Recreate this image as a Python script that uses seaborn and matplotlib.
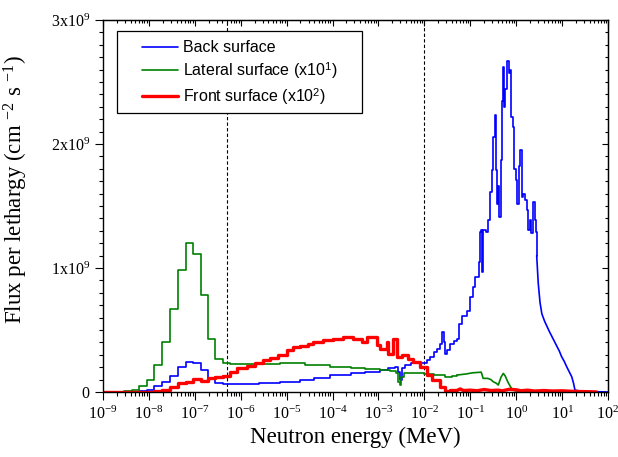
import numpy as np
import matplotlib
matplotlib.use("Agg")
import matplotlib.pyplot as plt
import seaborn as sns
from matplotlib.patches import Rectangle
from matplotlib.ticker import LogLocator, MultipleLocator, NullFormatter

# energies are log10(E / MeV) at the start of each histogram bin,
# fluxes are per lethargy in units of 1e9 cm^-2 s^-1
back_loge = [-9.0, -8.375, -8.21, -8.05, -7.88, -7.71, -7.54, -7.37, -7.20, -7.05, -6.87, -6.71, -6.55, -6.38, -6.23,
             -6.0, -5.6, -5.14, -4.71, -4.4, -4.05, -3.6, -3.3, -2.97, -2.8,
             -2.64, -2.58, -2.53, -2.49, -2.42, -2.3, -2.1, -1.95, -1.88, -1.8,
             -1.73, -1.66, -1.61, -1.58, -1.55, -1.5, -1.44, -1.35, -1.29, -1.24,
             -1.19, -1.08, -1.0, -0.95, -0.90, -0.82, -0.79, -0.77, -0.75, -0.72,
             -0.66, -0.61, -0.57, -0.53, -0.50, -0.46, -0.44, -0.42, -0.39, -0.37,
             -0.34, -0.31, -0.28, -0.26, -0.24, -0.205, -0.16, -0.13, -0.11, -0.075,
             -0.045, -0.002, 0.026, 0.063, 0.085, 0.12, 0.157, 0.19, 0.23, 0.266,
             0.30, 0.33, 0.36, 0.40, 0.43, 0.447, 0.48, 0.52, 0.56, 0.62,
             0.67, 0.72, 0.775, 0.83, 0.885, 0.94, 0.99, 1.05, 1.10, 1.16,
             1.21, 1.25, 1.28, 1.35, 1.5, 1.7, 2.0]
back_flux = [0.0, 0.003, 0.005, 0.016, 0.05, 0.08, 0.13, 0.20, 0.245, 0.234, 0.18, 0.105, 0.07, 0.064, 0.063,
             0.066, 0.075, 0.083, 0.097, 0.11, 0.137, 0.15, 0.162, 0.177, 0.19,
             0.204, 0.16, 0.10, 0.19, 0.218, 0.23, 0.23, 0.26, 0.285, 0.32,
             0.35, 0.39, 0.486, 0.40, 0.31, 0.34, 0.39, 0.41, 0.43, 0.55,
             0.61, 0.65, 0.77, 0.85, 0.93, 1.05, 1.29, 1.31, 0.97, 1.31,
             1.29, 1.39, 1.61, 1.79, 2.06, 2.23, 1.79, 1.52, 1.66, 1.41,
             1.87, 2.35, 2.62, 2.30, 2.44, 2.67, 2.57, 2.60, 2.22, 2.14,
             1.80, 1.71, 1.52, 1.82, 1.95, 1.57, 1.60, 1.55, 1.47, 1.31,
             1.39, 1.28, 1.53, 1.39, 1.29, 1.10, 0.88, 0.72, 0.63, 0.57,
             0.53, 0.49, 0.45, 0.41, 0.37, 0.33, 0.285, 0.245, 0.204, 0.16,
             0.123, 0.07, 0.016, 0.01, 0.008, 0.003, 0.0]

lateral_loge = [-9.0, -8.54, -8.375, -8.21, -8.05, -7.88, -7.71, -7.54, -7.37, -7.20,
                -7.05, -6.87, -6.71, -6.55, -6.38, -6.23, -5.6, -5.14, -4.6, -4.05,
                -3.6, -3.3, -2.97, -2.75, -2.62, -2.57, -2.53, -2.5, -2.45, -2.3,
                -2.0, -1.8, -1.55, -1.4, -1.29, -1.1, -0.95, -0.83, -0.76, -0.72,
                -0.62, -0.55, -0.5, -0.43, -0.39, -0.33, -0.28, -0.24, -0.18, -0.12,
                -0.07, 0.0, 0.4, 0.9, 1.4, 1.7]
lateral_flux = [0.0, 0.008, 0.016, 0.05, 0.10, 0.22, 0.40, 0.67, 0.98, 1.20,
                1.11, 0.78, 0.43, 0.27, 0.23, 0.225, 0.228, 0.23, 0.218, 0.204,
                0.196, 0.185, 0.177, 0.168, 0.15, 0.083, 0.056, 0.12, 0.156, 0.15,
                0.145, 0.14, 0.125, 0.13, 0.137, 0.145, 0.155, 0.158, 0.16, 0.11,
                0.11, 0.1, 0.083, 0.07, 0.056, 0.12, 0.15, 0.13, 0.08, 0.04,
                0.016, 0.008, 0.006, 0.005, 0.003, 0.0]

front_loge = [-9.0, -8.2, -7.88, -7.71, -7.54, -7.37, -7.20, -7.05, -6.87, -6.71,
              -6.55, -6.38, -6.23, -6.09, -5.87, -5.69, -5.51, -5.36, -5.18, -4.99,
              -4.86, -4.71, -4.53, -4.42, -4.21, -3.99, -3.77, -3.55, -3.36, -3.25,
              -3.03, -2.965, -2.81, -2.79, -2.68, -2.59, -2.49, -2.36, -2.25, -2.09,
              -1.94, -1.83, -1.66, -1.55, -1.45, -1.3, -1.22, -1.15, -1.0, -0.85,
              -0.7, -0.55, -0.4, -0.3, -0.15, 0.0, 0.1, 0.25, 0.4, 0.6,
              0.8, 1.0, 1.2, 1.4, 1.6, 1.75]
front_flux = [0.0, 0.002, 0.005, 0.016, 0.04, 0.07, 0.08, 0.105, 0.09, 0.11,
              0.123, 0.13, 0.16, 0.19, 0.21, 0.23, 0.26, 0.277, 0.30, 0.34,
              0.365, 0.37, 0.39, 0.405, 0.42, 0.43, 0.446, 0.43, 0.405, 0.446,
              0.38, 0.35, 0.40, 0.31, 0.43, 0.285, 0.30, 0.27, 0.245, 0.204,
              0.137, 0.097, 0.043, 0.012, 0.018, 0.01, 0.025, 0.012, 0.015, 0.01,
              0.02, 0.012, 0.015, 0.01, 0.022, 0.018, 0.01, 0.015, 0.008, 0.012,
              0.008, 0.01, 0.006, 0.004, 0.002, 0.0]

cut_energies = [5e-7, 1e-2]  # MeV, dashed separators
x_decades = list(range(-9, 3))
y_ticks = [0, 1e9, 2e9, 3e9]
y_labels = ["0", "1x10$^9$", "2x10$^9$", "3x10$^9$"]

# label, energies, fluxes, colour, width, log10(E) above which bins are drawn as a plain line
series = [
    ("Back surface", back_loge, back_flux, "#0000ff", 1.2, 0.44),
    ("Lateral surface (x10$^{\\mathsf{1}}$)", lateral_loge, lateral_flux, "#008000", 1.2, -1.3),
    ("Front surface (x10$^{\\mathsf{2}}$)", front_loge, front_flux, "#ff0000", 2.4, -1.3),
]

sns.set_style("ticks")
plt.rcParams["font.family"] = ["Liberation Serif", "DejaVu Serif"]
plt.rcParams["mathtext.fontset"] = "custom"
plt.rcParams["mathtext.rm"] = "Liberation Serif"
plt.rcParams["mathtext.it"] = "Liberation Serif:italic"
plt.rcParams["mathtext.sf"] = "Liberation Sans"
plt.rcParams["axes.edgecolor"] = "black"
plt.rcParams["xtick.color"] = "black"
plt.rcParams["ytick.color"] = "black"
plt.rcParams["text.color"] = "black"
plt.rcParams["axes.labelcolor"] = "black"

fig = plt.figure(figsize=(6.18, 4.57), dpi=100)
ax = fig.add_axes([0.1667, 0.1422, 0.8171, 0.814])

for label, loge, flux, color, lw, fine_from in series:
    loge = np.array(loge)
    energy = 10.0 ** loge
    values = np.array(flux) * 1e9
    k = int(np.argmax(loge >= fine_from))
    # coarse part as a step histogram, fine part as a plain line
    sns.lineplot(x=energy[:k + 1], y=values[:k + 1], ax=ax, color=color, linewidth=lw, label=label,
                 drawstyle="steps-post", estimator=None, sort=False)
    sns.lineplot(x=energy[k:], y=values[k:], ax=ax, color=color, linewidth=lw, label="_nolegend_",
                 estimator=None, sort=False)

for e in cut_energies:
    ax.axvline(e, color="black", linestyle=(0, (3, 2)), linewidth=0.8, zorder=1)

ax.set_xscale("log")
ax.set_xlim(1e-9, 1e2)
ax.set_ylim(0, 3e9)

major_x = [10.0 ** d for d in x_decades]
ax.set_xticks(major_x, [f"10$^{{{d}}}$" for d in x_decades])
ax.xaxis.set_minor_locator(LogLocator(base=10, subs=np.arange(2, 10), numticks=200))
ax.xaxis.set_minor_formatter(NullFormatter())
ax.set_yticks(y_ticks, y_labels)
ax.yaxis.set_minor_locator(MultipleLocator(1e8))

ax.tick_params(which="both", direction="out", top=False, right=False, width=0.8, labelsize=11.5)
ax.tick_params(which="major", length=5.5, pad=4)
ax.tick_params(which="minor", length=3)
for sp in ax.spines.values():
    sp.set_linewidth(1.0)

# top and right axes carry inward ticks without labels
secx = ax.secondary_xaxis("top")
secx.set_xticks(major_x)
secx.xaxis.set_minor_locator(LogLocator(base=10, subs=np.arange(2, 10), numticks=200))
secx.tick_params(which="both", direction="in", labeltop=False, width=0.8)
secx.tick_params(which="major", length=4)
secx.tick_params(which="minor", length=2)
secy = ax.secondary_yaxis("right")
secy.set_yticks(y_ticks)
secy.yaxis.set_minor_locator(MultipleLocator(1e8))
secy.tick_params(which="both", direction="in", labelright=False, width=0.8)
secy.tick_params(which="major", length=4)
secy.tick_params(which="minor", length=2)

ax.set_xlabel("Neutron energy (MeV)", fontsize=16.5)
ax.set_ylabel("Flux per lethargy (cm $^{-2}$ s $^{-1}$)", fontsize=16.5)
ax.xaxis.set_label_coords(0.5, -0.094)
ax.yaxis.set_label_coords(-0.145, 0.545)

# legend box drawn by hand so the padding matches the original
ax.add_patch(Rectangle((0.0283, 0.750), 0.4846, 0.2204, transform=ax.transAxes,
                       facecolor="white", edgecolor="black", linewidth=0.9, zorder=4))
leg = ax.legend(loc="upper left", bbox_to_anchor=(0.0766, 0.946), frameon=False,
                borderpad=0, borderaxespad=0, handlelength=2.3, handletextpad=0.3,
                labelspacing=0.3, prop={"family": "Liberation Sans", "size": 11.5})
leg.set_zorder(5)

fig.savefig("out.png", dpi=100)
